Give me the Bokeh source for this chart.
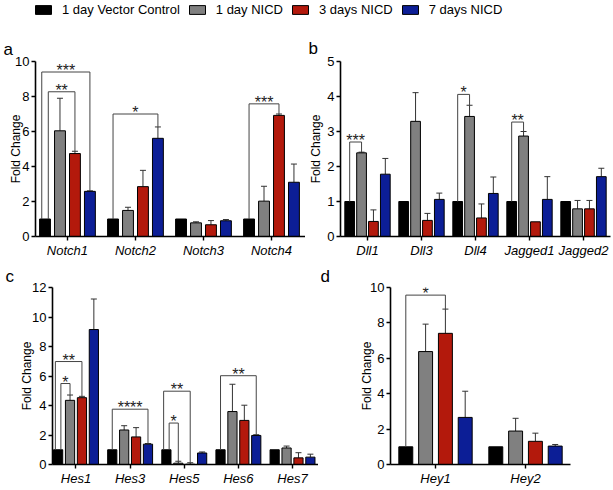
import numpy as np
from bokeh.plotting import figure
from bokeh.models import (Range1d, FixedTicker, Legend, LegendItem, ColumnDataSource,
                          Whisker, TeeHead)
from bokeh.layouts import column, row
from bokeh.embed import file_html
from bokeh.resources import INLINE
from bokeh.core.properties import value

FONT = "Liberation Sans"

series = ["1 day Vector Control", "1 day NICD", "3 days NICD", "7 days NICD"]
colors = ["#000000", "#808080", "#B3190C", "#0C1E96"]

# ---- panel a ----
genes_a = ["Notch1", "Notch2", "Notch3", "Notch4"]
ctrl_a = [1.0, 1.0, 1.0, 1.0]
nicd1_a = [6.04, 1.49, 0.78, 2.02]
nicd3_a = [4.74, 2.85, 0.67, 6.92]
nicd7_a = [2.58, 5.61, 0.90, 3.10]
err1_a = [1.86, 0.18, 0.06, 0.85]
err3_a = [0.13, 0.93, 0.24, 0.08]
err7_a = [0.03, 0.65, 0.07, 1.04]
stats_a = [("Notch1", 3, 9.4, "***"), ("Notch1", 2, 8.27, "**"),
           ("Notch2", 3, 7.0, "*"), ("Notch4", 2, 7.58, "***")]

# ---- panel b ----
genes_b = ["Dll1", "Dll3", "Dll4", "Jagged1", "Jagged2"]
ctrl_b = [1.0, 1.0, 1.0, 1.0, 1.0]
nicd1_b = [2.39, 3.29, 3.43, 2.87, 0.79]
nicd3_b = [0.43, 0.46, 0.53, 0.42, 0.79]
nicd7_b = [1.78, 1.06, 1.23, 1.06, 1.71]
err1_b = [0.02, 0.82, 0.32, 0.13, 0.24]
err3_b = [0.33, 0.20, 0.40, 0.0, 0.24]
err7_b = [0.45, 0.18, 0.47, 0.65, 0.24]
stats_b = [("Dll1", 1, 2.7, "***"), ("Dll4", 1, 4.06, "*"), ("Jagged1", 1, 3.27, "**")]

# ---- panel c ----
genes_c = ["Hes1", "Hes3", "Hes5", "Hes6", "Hes7"]
ctrl_c = [1.0, 1.0, 1.0, 1.0, 1.0]
nicd1_c = [4.35, 2.34, 0.09, 3.59, 1.12]
nicd3_c = [4.53, 1.87, 0.02, 2.99, 0.45]
nicd7_c = [9.15, 1.38, 0.78, 1.97, 0.50]
err1_c = [0.36, 0.29, 0.13, 1.85, 0.13]
err3_c = [0.09, 0.63, 0.10, 1.03, 0.35]
err7_c = [2.07, 0.04, 0.07, 0.05, 0.20]
stats_c = [("Hes1", 2, 6.98, "**"), ("Hes1", 1, 5.49, "*"), ("Hes3", 3, 3.75, "****"),
           ("Hes5", 2, 4.97, "**"), ("Hes5", 1, 2.81, "*"), ("Hes6", 3, 6.02, "**")]

# ---- panel d ----
genes_d = ["Hey1", "Hey2"]
ctrl_d = [1.0, 1.0]
nicd1_d = [6.38, 1.89]
nicd3_d = [7.41, 1.31]
nicd7_d = [2.66, 1.04]
err1_d = [1.55, 0.72]
err3_d = [1.37, 0.46]
err7_d = [1.48, 0.09]
stats_d = [("Hey1", 2, 9.57, "*")]


def panel(genes, vals, errs, stats, ymax, ystep, letter, W, H, bl, br, bt, bb,
          xr, bar_w, letter_off, letter_standoff, ylab_standoff):
    n = len(genes)
    centers = np.arange(1, n + 1)
    step = 0.22
    offs = (np.arange(4) - 1.5) * step
    p = figure(width=W, height=H, x_range=Range1d(*xr), y_range=Range1d(0, ymax),
               output_backend="svg", toolbar_location=None,
               min_border_left=bl, min_border_right=br, min_border_top=bt,
               min_border_bottom=bb, title=letter)
    p.title.text_font = FONT
    p.title.text_font_size = "17px"
    p.title.text_font_style = "normal"
    p.title.text_color = "#000000"
    p.title.align = "left"
    p.title.offset = letter_off
    p.title.standoff = letter_standoff
    p.outline_line_color = None
    p.grid.visible = False
    p.background_fill_color = None
    p.border_fill_color = None

    tops = []
    for k in range(4):
        xs = centers + offs[k]
        v = np.array(vals[k], dtype=float)
        e = np.array(errs[k], dtype=float)
        tops.append(v + e)
        p.vbar(x=xs, top=v, bottom=0, width=bar_w, fill_color=colors[k],
               line_color="#000000", line_width=1)
        mask = e > 0
        if mask.any():
            src = ColumnDataSource(dict(x=xs[mask], lower=v[mask], upper=(v + e)[mask]))
            w = Whisker(source=src, base="x", lower="lower", upper="upper",
                        dimension="height", line_color="#333333", line_width=1,
                        lower_head=None,
                        upper_head=TeeHead(size=6, line_color="#333333", line_width=1))
            p.add_layout(w)

    # significance brackets
    bxs, bys, tx, ty, tt = [], [], [], [], []
    for g in genes:
        gst = sorted([s for s in stats if s[0] == g], key=lambda s: -s[2])
        m = len(gst)
        for j, (gene, k, y, lab) in enumerate(gst):
            gi = genes.index(gene)
            shift = 0.0 if m == 1 else (-0.3 + 0.6 * j / (m - 1)) * bar_w
            x1 = centers[gi] + offs[0] + shift
            x2 = centers[gi] + offs[k]
            y1 = tops[0][gi]
            y2 = tops[k][gi]
            bxs.append([x1, x1, x2, x2])
            bys.append([y1, y, y, y2])
            tx.append((x1 + x2) / 2)
            ty.append(y)
            tt.append(lab)
    if bxs:
        p.multi_line(xs=bxs, ys=bys, line_color="#444444", line_width=1)
        p.text(x=tx, y=ty, text=tt, text_align="center", text_baseline="bottom",
               y_offset=7, text_font=value(FONT), text_font_size="16px",
               text_color="#222222")

    p.xaxis.ticker = FixedTicker(ticks=list(centers))
    p.xaxis.major_label_overrides = {int(c): g for c, g in zip(centers, genes)}
    p.yaxis.ticker = FixedTicker(ticks=list(np.arange(0, ymax + 0.01, ystep)))
    for ax in (p.xaxis[0], p.yaxis[0]):
        ax.axis_line_color = "#000000"
        ax.axis_line_width = 1.6
        ax.major_tick_line_color = "#000000"
        ax.major_tick_line_width = 1.4
        ax.major_tick_out = 4
        ax.major_tick_in = 0
        ax.minor_tick_line_color = None
        ax.major_label_standoff = 2
        ax.major_label_text_font = FONT
        ax.major_label_text_font_size = "13px"
        ax.major_label_text_color = "#000000"
    p.xaxis.major_label_text_font_style = "italic"
    p.yaxis.major_label_orientation = "horizontal"
    p.yaxis.axis_label = "Fold Change"
    p.yaxis.axis_label_text_font = FONT
    p.yaxis.axis_label_text_font_size = "12px"
    p.yaxis.axis_label_text_font_style = "normal"
    p.yaxis.axis_label_text_color = "#000000"
    p.yaxis.axis_label_standoff = ylab_standoff
    return p


pa = panel(genes_a, [ctrl_a, nicd1_a, nicd3_a, nicd7_a], [[0] * 4, err1_a, err3_a, err7_a],
           stats_a, 10, 2, "a", 305, 242, 35, 0, 41, 26, (0.53, 4.5), 0.16, -32, 6, -11)
pb = panel(genes_b, [ctrl_b, nicd1_b, nicd3_b, nicd7_b], [[0] * 5, err1_b, err3_b, err7_b],
           stats_b, 5, 1, "b", 308, 242, 35, 3, 41, 26, (0.5, 5.5), 0.18, -32, 8, 1)
pc = panel(genes_c, [ctrl_c, nicd1_c, nicd3_c, nicd7_c], [[0] * 5, err1_c, err3_c, err7_c],
           stats_c, 12, 2, "c", 318, 228, 52, 0, 25, 26, (0.566, 5.48), 0.17, -47, 4, -5)
pd_ = panel(genes_d, [ctrl_d, nicd1_d, nicd3_d, nicd7_d], [[0] * 2, err1_d, err3_d, err7_d],
            stats_d, 10, 2, "d", 295, 228, 72, 43, 25, 26, (0.5, 2.5), 0.155, -70, 4, -7)

# legend strip
lg = figure(width=613, height=20, x_range=(0, 1), y_range=(0, 1), output_backend="svg",
            toolbar_location=None, min_border=0)
lg.axis.visible = False
lg.grid.visible = False
lg.outline_line_color = None
items = []
for s, c in zip(series, colors):
    r = lg.vbar(x=[5], top=[0.5], width=0.1, fill_color=c, line_color="#000000", line_width=1)
    items.append(LegendItem(label=s, renderers=[r]))
leg = Legend(items=items, orientation="horizontal", location=(33, 3),
             glyph_width=20, glyph_height=11, label_standoff=9, spacing=7,
             padding=0, margin=0, border_line_color=None, background_fill_alpha=0,
             label_text_font=FONT, label_text_font_size="13px", label_height=12,
             label_text_color="#000000")
lg.add_layout(leg)

layout = column(lg, row(pa, pb), row(pc, pd_))
open("out.html", "w").write(file_html(layout, INLINE))
